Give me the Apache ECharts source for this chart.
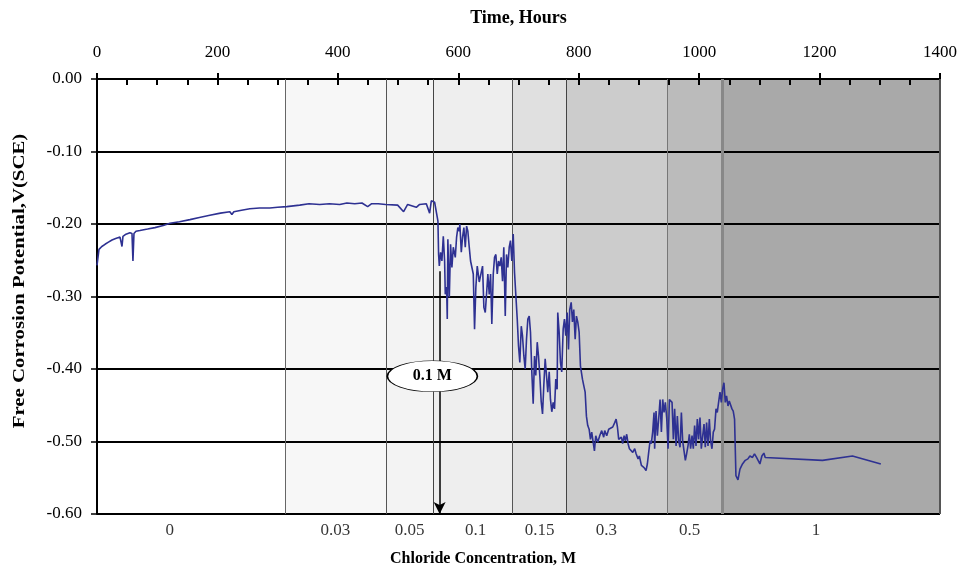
<!DOCTYPE html>
<html>
<head>
<meta charset="utf-8">
<script src="https://cdn.jsdelivr.net/npm/echarts@6/dist/echarts.min.js"></script>
<style>
  html, body { margin: 0; padding: 0; background: #ffffff; }
  #chart { width: 960px; height: 567px; }
</style>
</head>
<body>
<div id="chart"></div>
<script>
// Free corrosion potential trace: [time (h), potential (V vs SCE)]
const potentialTrace = [
  [0, -0.257], [3.3, -0.235], [8, -0.231], [13.3, -0.228], [19, -0.225], [24.9, -0.222],
  [31, -0.220], [38.2, -0.218], [39.8, -0.216], [41.5, -0.231], [43.1, -0.217], [48.1, -0.214],
  [54.7, -0.212], [58.1, -0.213], [59.7, -0.251], [61.4, -0.213], [64.7, -0.210], [71.3, -0.209],
  [84, -0.207], [96.2, -0.205], [110, -0.202], [121.1, -0.199], [137, -0.197], [154.3, -0.194],
  [170, -0.191], [187.4, -0.188], [205, -0.185], [220.6, -0.183], [224, -0.187], [227.3, -0.183],
  [240, -0.181], [253.8, -0.179], [270, -0.178], [287, -0.178], [300, -0.177], [315.2, -0.176],
  [336.7, -0.174], [352, -0.172], [369.9, -0.173], [386, -0.172], [403.1, -0.173], [415, -0.171],
  [428, -0.172], [440, -0.171], [449.5, -0.176], [456.2, -0.172], [467, -0.172], [479.4, -0.173],
  [499.3, -0.174], [509.2, -0.183], [515.9, -0.173], [530.3, -0.177], [535.8, -0.173], [546.9, -0.172],
  [552.4, -0.185], [555.2, -0.168], [560.7, -0.170], [564, -0.168],
  [566.2, -0.196], [567.3, -0.242], [568.5, -0.258], [570.6, -0.239], [572.8, -0.251], [575.1, -0.217],
  [577.3, -0.251], [578.4, -0.297], [580.6, -0.287], [581.7, -0.331], [582.7, -0.221], [585.1, -0.301],
  [587.2, -0.228], [589.4, -0.260], [591.7, -0.232], [595, -0.246], [597.2, -0.218], [599.3, -0.205],
  [601.6, -0.210], [602.6, -0.200], [605, -0.239], [607.1, -0.218], [609.3, -0.205], [611.6, -0.232],
  [613.8, -0.203], [615.9, -0.210], [618.2, -0.232], [620.4, -0.251], [622.6, -0.251], [624.9, -0.269],
  [627, -0.345], [629.2, -0.287], [631.5, -0.258], [634.8, -0.280], [638.1, -0.279], [640.3, -0.258],
  [642.5, -0.315], [644.8, -0.322], [646.9, -0.297], [649.1, -0.269], [651.4, -0.297], [653.6, -0.269],
  [655.7, -0.338], [658.1, -0.269], [660.2, -0.246], [662.4, -0.242], [664.7, -0.269], [666.8, -0.251],
  [669, -0.258], [671.3, -0.246], [673.5, -0.279], [675.6, -0.232], [678, -0.327], [680.1, -0.242],
  [682.3, -0.260], [684.6, -0.232], [686.7, -0.223], [688.9, -0.251], [691.2, -0.214], [693.4, -0.267],
  [695.5, -0.297],
  [697.9, -0.331], [700, -0.368], [702.2, -0.391], [704.6, -0.341], [706.6, -0.354], [708.9, -0.382],
  [711.1, -0.400], [713.3, -0.359], [715.5, -0.331], [717.8, -0.327], [719.9, -0.349], [722.1, -0.404],
  [724.4, -0.448], [726.6, -0.382], [728.7, -0.409], [731.1, -0.363], [733.2, -0.382], [735.4, -0.409],
  [737.7, -0.445], [739.9, -0.462], [742, -0.423], [744.3, -0.386], [746.5, -0.409], [748.6, -0.432],
  [751, -0.404], [753.1, -0.442], [755.3, -0.459], [757.6, -0.446], [759.8, -0.455], [761.9, -0.414],
  [764.2, -0.428], [765.2, -0.322], [767.5, -0.349], [769.7, -0.391], [771.8, -0.404], [774.2, -0.345],
  [776.3, -0.331], [778.5, -0.354], [780.8, -0.322], [783, -0.373], [785.1, -0.318], [787.5, -0.308],
  [789.6, -0.335], [791.8, -0.318], [794.1, -0.359], [796.2, -0.327], [798.4, -0.335], [800.7, -0.349],
  [802.9, -0.396], [806.2, -0.414], [808.4, -0.423], [810.7, -0.432], [812.8, -0.465], [815, -0.478],
  [817.3, -0.483], [819.5, -0.497], [821.6, -0.487], [824, -0.501], [826.1, -0.513], [828.3, -0.492],
  [831.6, -0.501], [834.9, -0.492], [838.2, -0.485], [841.5, -0.494],
  [843.2, -0.485], [846.5, -0.492], [849.8, -0.483], [853.1, -0.485], [856.5, -0.480], [859.8, -0.474],
  [862.1, -0.469], [864.3, -0.480], [866.4, -0.497], [868.7, -0.499], [870.9, -0.494], [873, -0.503],
  [875.4, -0.492], [877.5, -0.499], [879.7, -0.490], [882, -0.503], [884.2, -0.510], [887.5, -0.508],
  [889.7, -0.515], [893, -0.510], [895.3, -0.517], [898.6, -0.524], [900.7, -0.520], [904.1, -0.533],
  [906.2, -0.531], [908.5, -0.536], [911.8, -0.540], [914, -0.531], [916.2, -0.515], [918.5, -0.499],
  [920.6, -0.503], [922.8, -0.487], [925.1, -0.460], [926.1, -0.510], [928.4, -0.458], [930.6, -0.492],
  [932.8, -0.469], [935.1, -0.442], [937.3, -0.487], [939.5, -0.442], [941.7, -0.460], [943.9, -0.446],
  [946.1, -0.467], [948.4, -0.510], [950.6, -0.442], [952.7, -0.444], [955, -0.446], [957.2, -0.497],
  [959.3, -0.455], [961.7, -0.506], [963.8, -0.465], [966, -0.499], [968.3, -0.508], [970.5, -0.460],
  [972.6, -0.499], [974.9, -0.513], [977.1, -0.526], [979.2, -0.517], [981.5, -0.506], [983.7, -0.490],
  [985.8, -0.510], [988.2, -0.492], [990.3, -0.510], [992.5, -0.478], [994.8, -0.506], [997, -0.469],
  [999.1, -0.497], [1001.4, -0.467], [1003.6, -0.510], [1005.7, -0.494], [1008.1, -0.476], [1010.2, -0.508],
  [1012.4, -0.474], [1014.7, -0.506], [1016.9, -0.469], [1019, -0.499], [1021.3, -0.510], [1023.5, -0.487],
  [1025.6, -0.483], [1028, -0.455], [1030.1, -0.460], [1032.3, -0.446], [1034.6, -0.432], [1036.8, -0.446],
  [1038.9, -0.428], [1041.2, -0.419], [1043.4, -0.446], [1045.5, -0.437], [1047.9, -0.451], [1050, -0.444],
  [1052.2, -0.442], [1054.5, -0.455], [1056.6, -0.458], [1058.8, -0.469], [1061.1, -0.547], [1064.5, -0.553],
  [1067.8, -0.538], [1072, -0.531], [1076.6, -0.526], [1081, -0.524], [1084.3, -0.520], [1088.6, -0.522],
  [1091.9, -0.517], [1095.3, -0.522], [1096.9, -0.524], [1100.9, -0.531], [1104.2, -0.520], [1107.5, -0.516],
  [1109.7, -0.522], [1204.8, -0.526], [1254.6, -0.520], [1301.7, -0.531]
];

// Times (h) at which the chloride concentration was stepped up
const bandEdges = [0, 313, 480, 559, 689, 780, 947, 1039, 1400];
// Chloride concentration (M) held in each interval, and where its label sits (h)
const chlorideLabels = ['0', '0.03', '0.05', '0.1', '0.15', '0.3', '0.5', '1'];
const chlorideLabelHours = [121, 396, 519, 629, 735, 846, 984, 1194];

// Callout marking the 0.1 M step
const calloutText = '0.1 M';
const calloutPoint = [557, -0.41];
const arrowHour = 569;
const arrowSpan = [-0.265, -0.60];

// Styling
const FONT = '"Liberation Serif", "Times New Roman", serif';
const TICK_SIZE = 17;
const bandShades = ['#ffffff', '#f7f7f7', '#f3f3f3', '#eeeeee', '#e0e0e0', '#cccccc', '#bbbbbb', '#a9a9a9'];
const edgeStyles = [
  { color: '#666666', width: 1 },
  { color: '#555555', width: 1 },
  { color: '#444444', width: 1 },
  { color: '#555555', width: 1 },
  { color: '#444444', width: 1 },
  { color: '#777777', width: 1 },
  { color: '#888888', width: 3 },
  { color: '#555555', width: 2 }
];

const bandAreas = [];
for (let i = 1; i < bandEdges.length - 1; i++) {
  bandAreas.push([
    { xAxis: bandEdges[i], itemStyle: { color: bandShades[i] } },
    { xAxis: bandEdges[i + 1] }
  ]);
}
const edgeLines = bandEdges.slice(1).map((x, i) => ({
  xAxis: x,
  lineStyle: { color: edgeStyles[i].color, width: edgeStyles[i].width, type: 'solid' }
}));

const chart = echarts.init(document.getElementById('chart'), null, { renderer: 'canvas' });

chart.setOption({
  animation: false,
  backgroundColor: '#ffffff',
  textStyle: { fontFamily: FONT, color: '#000' },
  grid: { left: 97, right: 19, top: 79, bottom: 53, containLabel: false },
  title: {
    text: 'Chloride Concentration, M',
    left: 385, top: 546,
    textStyle: { fontFamily: FONT, fontSize: 16, fontWeight: 'bold', color: '#000' }
  },
  graphic: [{
    type: 'text',
    x: 20, y: 281,
    rotation: Math.PI / 2,
    scaleX: 1.3,
    style: {
      text: 'Free Corrosion Potential,V(SCE)',
      font: 'bold 16px ' + FONT,
      fill: '#000',
      textAlign: 'center',
      textVerticalAlign: 'middle'
    }
  }],
  xAxis: [
    {
      type: 'value', position: 'top', min: 0, max: 1400, interval: 200,
      name: 'Time, Hours', nameLocation: 'middle', nameGap: 52,
      nameTextStyle: { fontFamily: FONT, fontSize: 18, fontWeight: 'bold', color: '#000' },
      axisLine: { show: true, lineStyle: { color: '#000', width: 2 } },
      axisTick: { show: true, inside: false, length: 6, lineStyle: { color: '#000', width: 2 } },
      axisLabel: { fontFamily: FONT, fontSize: TICK_SIZE, color: '#000', margin: 18, formatter: v => String(v) },
      splitLine: { show: false }
    },
    {
      type: 'value', position: 'top', min: 0, max: 1400, interval: 50,
      axisLine: { show: false },
      axisTick: { show: true, inside: true, length: 6, lineStyle: { color: '#000', width: 2 } },
      axisLabel: { show: false },
      splitLine: { show: false }
    }
  ],
  yAxis: {
    type: 'value', min: -0.6, max: 0, interval: 0.1,
    axisLine: { show: true, lineStyle: { color: '#000', width: 2 } },
    axisTick: { show: true, inside: false, length: 6, lineStyle: { color: '#000', width: 1.5 } },
    axisLabel: {
      fontFamily: FONT, fontSize: TICK_SIZE, color: '#000', margin: 15,
      formatter: v => v.toFixed(2)
    },
    splitLine: { show: true, lineStyle: { color: '#000', width: 2 } }
  },
  series: [
    {
      // concentration intervals as shaded bands with boundary lines
      type: 'line',
      xAxisIndex: 0,
      data: [],
      silent: true,
      markArea: { silent: true, z: -1, data: bandAreas },
      markLine: {
        silent: true, z: 1, symbol: ['none', 'none'],
        label: { show: false },
        emphasis: { disabled: true },
        data: edgeLines
      }
    },
    {
      name: 'Free corrosion potential',
      type: 'line',
      xAxisIndex: 0,
      z: 3,
      data: potentialTrace,
      symbol: 'none',
      lineStyle: { color: '#2e3192', width: 1.6 },
      silent: true
    },
    {
      // concentration labels under the plot
      type: 'scatter',
      xAxisIndex: 0,
      clip: false,
      symbolSize: 0,
      silent: true,
      data: chlorideLabelHours.map(h => [h, -0.6]),
      label: {
        show: true, position: 'bottom', distance: 8,
        fontFamily: FONT, fontSize: TICK_SIZE, color: '#000',
        formatter: p => chlorideLabels[p.dataIndex]
      }
    },
    {
      // arrow and callout for the 0.1 M step
      type: 'line',
      xAxisIndex: 0,
      data: [],
      silent: true,
      markLine: {
        silent: true, z: 5,
        symbol: ['none', 'arrow'], symbolSize: [9, 12],
        label: { show: false },
        emphasis: { disabled: true },
        lineStyle: { color: '#000', width: 1.5, type: 'solid' },
        data: [[{ coord: [arrowHour, arrowSpan[0]] }, { coord: [arrowHour, arrowSpan[1]] }]]
      },
      markPoint: {
        silent: true, z: 6,
        symbol: 'path://M0,10A10,10,0,1,1,20,10A10,10,0,1,1,0,10Z',
        symbolSize: [90, 31],
        itemStyle: { color: '#ffffff', borderColor: '#000', borderWidth: 1 },
        label: {
          show: true, position: 'inside', formatter: calloutText,
          fontFamily: FONT, fontSize: 16, fontWeight: 'bold', color: '#000'
        },
        data: [{ coord: calloutPoint }]
      }
    }
  ]
});
</script>
</body>
</html>
